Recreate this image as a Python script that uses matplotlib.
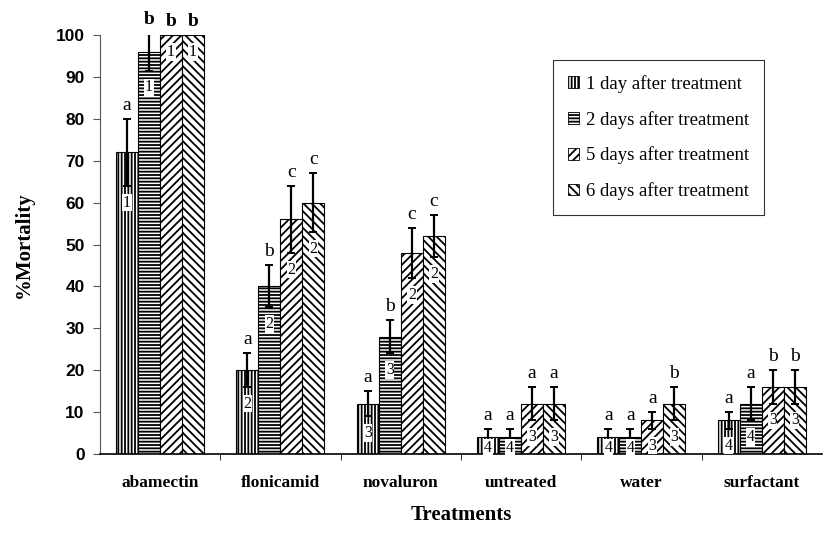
import numpy as np
import matplotlib
matplotlib.use("Agg")
import matplotlib.pyplot as plt
from matplotlib.patches import Patch

# dados
tratamentos = ["abamectin", "flonicamid", "novaluron", "untreated", "water", "surfactant"]
series = ["1 day after treatment", "2 days after treatment",
          "5 days after treatment", "6 days after treatment"]

dia1 = [72, 20, 12, 4, 4, 8]
dia2 = [96, 40, 28, 4, 4, 12]
dia5 = [100, 56, 48, 12, 8, 16]
dia6 = [100, 60, 52, 12, 12, 16]

erro1 = [8, 4, 3, 2, 2, 2]
erro2 = [4.5, 5, 4, 2, 2, 4]
erro5 = [0, 8, 6, 4, 2, 4]
erro6 = [0, 7, 5, 4, 4, 4]

letras1 = ["a", "a", "a", "a", "a", "a"]
letras2 = ["b", "b", "b", "a", "a", "a"]
letras5 = ["b", "c", "c", "a", "a", "b"]
letras6 = ["b", "c", "c", "a", "b", "b"]

numeros1 = ["1", "2", "3", "4", "4", "4"]
numeros2 = ["1", "2", "3", "4", "4", "4"]
numeros5 = ["1", "2", "2", "3", "3", "3"]
numeros6 = ["1", "2", "2", "3", "3", "3"]

valores = [dia1, dia2, dia5, dia6]
erros = [erro1, erro2, erro5, erro6]
letras = [letras1, letras2, letras5, letras6]
numeros = [numeros1, numeros2, numeros5, numeros6]
hachuras = ["|||||", "-----", "////", "\\\\\\\\"]

plt.rcParams["hatch.linewidth"] = 1.3

fig = plt.figure(figsize=(8.26, 5.56), dpi=100)
ax = fig.add_axes([0.121, 0.1835, 0.874, 0.7535])

x = np.arange(len(tratamentos))
largura = 0.183
serif = "Liberation Serif"

for i in range(4):
    pos = x + (i - 1.5) * largura
    ax.bar(pos, valores[i], largura, color="white", edgecolor="black",
           linewidth=0.8, hatch=hachuras[i], zorder=2)
    ax.errorbar(pos, valores[i], yerr=erros[i], fmt="none", ecolor="black",
                elinewidth=1.6, capsize=3, capthick=1.4, zorder=3)
    for j in range(len(tratamentos)):
        topo = valores[i][j] + erros[i][j]
        negrito = "bold" if j == 0 and letras[i][j] == "b" else "normal"
        ax.text(pos[j], topo + 1.2, letras[i][j], ha="center", va="bottom",
                family=serif, fontsize=14, fontweight=negrito, clip_on=False)
        yn = max(valores[i][j] - erros[i][j] - 4, 1.5)
        ax.text(pos[j], yn, numeros[i][j], ha="center", va="center",
                family=serif, fontsize=11.5, zorder=4,
                bbox=dict(facecolor="white", edgecolor="none", pad=0.6))

ax.set_xlim(-0.5, len(tratamentos) - 0.5)
ax.set_ylim(0, 100)
ax.set_yticks(range(0, 101, 10))
ax.set_yticklabels([str(v) for v in range(0, 101, 10)],
                   family="Liberation Sans", fontweight="bold", fontsize=12.5)
ax.set_xticks(x)
ax.set_xticklabels(tratamentos, family=serif, fontweight="bold", fontsize=12.5)
ax.tick_params(axis="x", length=0, pad=15)
ax.set_xticks(np.arange(0.5, len(tratamentos) - 0.5, 1), minor=True)
ax.tick_params(axis="x", which="minor", length=4, direction="out")
ax.tick_params(axis="y", length=5, direction="out", color="#555555", pad=6)

ax.spines["top"].set_visible(False)
ax.spines["right"].set_visible(False)
ax.spines["left"].set_color("#555555")
ax.spines["bottom"].set_linewidth(1.2)

ax.set_xlabel("Treatments", family=serif, fontweight="bold", fontsize=15, labelpad=10)
ax.set_ylabel("%Mortality", family=serif, fontweight="bold", fontsize=15, labelpad=16)

# legenda
handles = [Patch(facecolor="white", edgecolor="black", hatch=h, linewidth=0.6)
           for h in hachuras]
leg = ax.legend(handles, series, loc="upper left", bbox_to_anchor=(0.627, 0.94),
                prop={"family": serif, "size": 13.5}, frameon=True, fancybox=False,
                edgecolor="black", handlelength=0.6, handleheight=0.6,
                handletextpad=0.4, labelspacing=0.95, borderpad=0.8,
                borderaxespad=0)
leg.get_frame().set_linewidth(0.8)

fig.savefig("out.png", dpi=100)
